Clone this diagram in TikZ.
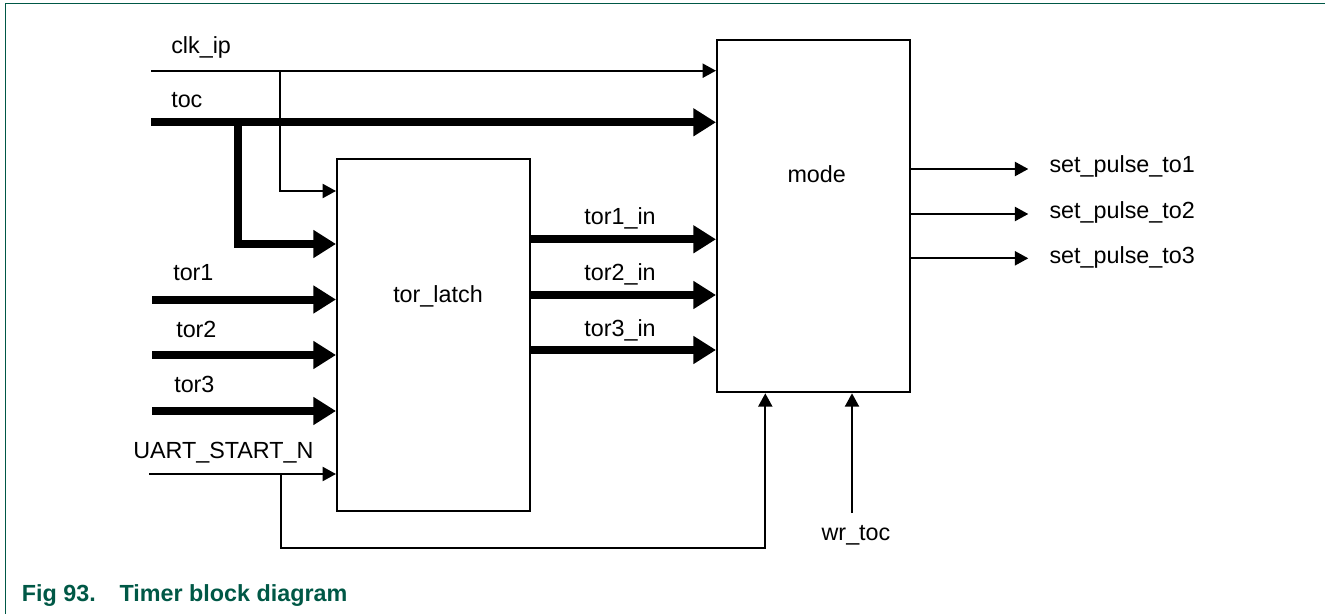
\documentclass[tikz,border=0pt]{standalone}
\usepackage{fontspec}
\setmainfont{Liberation Sans}
\usetikzlibrary{arrows.meta}
\definecolor{nxpgreen}{RGB}{0,88,70}
\begin{document}
\begin{tikzpicture}[x=0.75pt,y=-0.75pt,
  box/.style={draw,line width=1.5pt,minimum width=144.75pt,minimum height=264pt,inner sep=0pt},
  thinsig/.style={line width=1.5pt,-{Triangle[length=10pt,width=10.5pt]}},
  thicksig/.style={line width=6pt,line join=miter,-{Triangle[length=17pt,width=20pt]}},
  lbl/.style={font=\fontsize{17.5}{20}\selectfont,inner sep=0pt},
  figcaption/.style={font=\bfseries\fontsize{17.5}{20}\selectfont,text=nxpgreen,inner sep=0pt},
  ]
\useasboundingbox (0,0) rectangle (1325,614);
% frame
\draw[nxpgreen,line width=1.1pt] (5.3,614) -- (5.3,3.3) -- (1325,3.3);

% blocks
\node[box] (latch) at (433.5,335) {};
\node[box] (mode) at (813.5,216.3) {};
\node[lbl,anchor=base] (tlatch) at (438,302.7) {tor\_latch};
\node[lbl,anchor=base] (tmode) at (816.7,182.7) {mode};

% coordinates
\coordinate (clkin) at (151,70.7);
\coordinate (clkbr) at (279.5,70.7);
\coordinate (clklat) at (279.5,191);
\coordinate (tocin) at (151,122.3);
\coordinate (tocbr) at (237.5,122.3);
\coordinate (toclat) at (237.5,244);
\coordinate (tor1in) at (152,299.5);
\coordinate (tor2in) at (152,355);
\coordinate (tor3in) at (152,411);
\coordinate (uartin) at (149,474);
\coordinate (uartbr) at (281,474);
\coordinate (uartlow) at (281,548.3);
\coordinate (uartup) at (765.3,548.3);
\coordinate (wrtoc) at (852,513);
\coordinate (l1) at (0,239.3);
\coordinate (l2) at (0,295);
\coordinate (l3) at (0,350);
\coordinate (o1) at (1028.3,169);
\coordinate (o2) at (1028.3,214);
\coordinate (o3) at (1028.3,258.3);

% connectors
\draw[thinsig] (clkin) -- (mode.west |- clkin);
\draw[thinsig] (clkbr) -- (clklat) -- (latch.west |- clklat);
\draw[thicksig] (tocin) -- (mode.west |- tocin);
\draw[thicksig] (tocbr) -- (toclat) -- (latch.west |- toclat);
\draw[thicksig] (tor1in) -- (latch.west |- tor1in);
\draw[thicksig] (tor2in) -- (latch.west |- tor2in);
\draw[thicksig] (tor3in) -- (latch.west |- tor3in);
\draw[thinsig] (uartin) -- (latch.west |- uartin);
\draw[thinsig] (uartbr) -- (uartlow) -- (uartup) -- (mode.south -| uartup);
\draw[thinsig] (wrtoc) -- (mode.south -| wrtoc);
\draw[thicksig] (latch.east |- l1) -- (mode.west |- l1);
\draw[thicksig] (latch.east |- l2) -- (mode.west |- l2);
\draw[thicksig] (latch.east |- l3) -- (mode.west |- l3);
\draw[thinsig] (mode.east |- o1) -- (o1);
\draw[thinsig] (mode.east |- o2) -- (o2);
\draw[thinsig] (mode.east |- o3) -- (o3);

% labels
\node[lbl,anchor=base west] (tclk) at (171,53.3) {clk\_ip};
\node[lbl,anchor=base west] (ttoc) at (171,107.3) {toc};
\node[lbl,anchor=base west] (ttor1) at (173,280.7) {tor1};
\node[lbl,anchor=base west] (ttor2) at (176,337.7) {tor2};
\node[lbl,anchor=base west] (ttor3) at (174,392.7) {tor3};
\node[lbl,anchor=base west] (tuart) at (133,458.3) {UART\_START\_N};
\node[lbl,anchor=base] (ttor1in) at (620,224) {tor1\_in};
\node[lbl,anchor=base] (ttor2in) at (620,280.7) {tor2\_in};
\node[lbl,anchor=base] (ttor3in) at (620,336) {tor3\_in};
\node[lbl,anchor=base west] (tout1) at (1049.3,172.7) {set\_pulse\_to1};
\node[lbl,anchor=base west] (tout2) at (1049.3,218.3) {set\_pulse\_to2};
\node[lbl,anchor=base west] (tout3) at (1049.3,263.3) {set\_pulse\_to3};
\node[lbl,anchor=base] (twr) at (856,540.7) {wr\_toc};

% caption
\node[figcaption,anchor=base west] (cfig) at (21.7,601) {Fig 93.};
\node[figcaption,anchor=base west] (ctitle) at (119.3,601) {Timer block diagram};
\end{tikzpicture}
\end{document}
